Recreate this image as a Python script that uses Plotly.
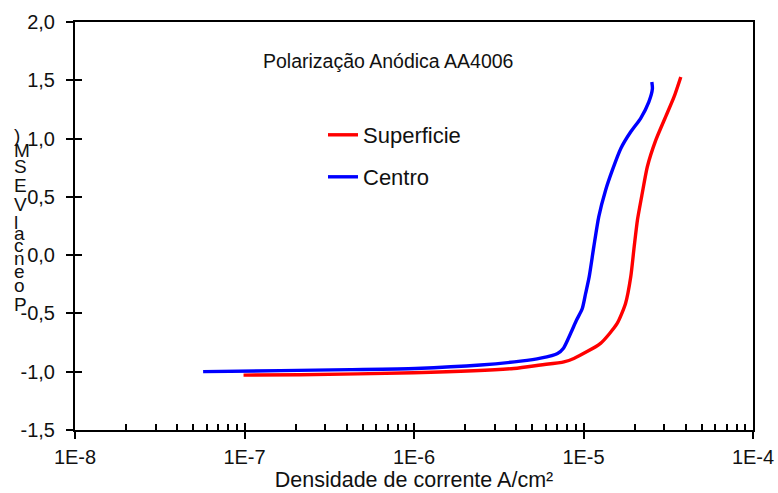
import plotly.graph_objects as go

# Data
centro_x = [5.70e-8, 1.63e-7, 4.21e-7, 1.02e-6, 2.47e-6, 4.25e-6, 5.58e-6, 7.03e-6, 7.62e-6,
            8.39e-6, 9.10e-6, 9.84e-6, 1.03e-5, 1.08e-5, 1.15e-5, 1.23e-5, 1.35e-5, 1.48e-5,
            1.66e-5, 1.90e-5, 2.17e-5, 2.43e-5, 2.55e-5, 2.53e-5]
centro_y = [-0.999, -0.991, -0.982, -0.972, -0.943, -0.909, -0.883, -0.843, -0.798,
            -0.672, -0.557, -0.458, -0.326, -0.186, 0.071, 0.329, 0.557, 0.729,
            0.915, 1.058, 1.172, 1.315, 1.428, 1.485]

superficie_x = [9.87e-8, 2.13e-7, 9.95e-7, 3.88e-6, 5.58e-6, 7.66e-6, 8.77e-6, 1.26e-5,
                1.58e-5, 1.77e-5, 1.90e-5, 1.99e-5, 2.08e-5, 2.22e-5, 2.38e-5, 2.67e-5,
                3.05e-5, 3.42e-5, 3.75e-5]
superficie_y = [-1.029, -1.026, -1.009, -0.972, -0.942, -0.915, -0.886, -0.757,
                -0.586, -0.415, -0.186, 0.071, 0.300, 0.529, 0.758, 0.986,
                1.186, 1.357, 1.529]

x_tickvals = [1e-8, 1e-7, 1e-6, 1e-5, 1e-4]
x_ticktext = ["1E-8", "1E-7", "1E-6", "1E-5", "1E-4"]
y_tickvals = [-1.5, -1.0, -0.5, 0.0, 0.5, 1.0, 1.5, 2.0]
y_ticktext = ["-1,5", "-1,0", "-0,5", "0,0", "0,5", "1,0", "1,5", "2,0"]
minor_vals = [m * 10.0 ** e for e in range(-8, -4) for m in range(2, 10)]

# stacked (reversed) y-axis title letters as they appear in the reference
ytitle_chars = [")", "M", "S", "E", "V", "l", "a", "c", "n", "e", "o", "P"]
ytitle_px = [135, 150, 166, 185, 204, 222, 234, 245, 258, 271, 285, 304]

FONT = "Liberation Sans, Arial, sans-serif"
TXT = "#111111"

L, R, T, B = 75, 25, 22, 63
W, H = 778, 493
PW, PH = W - L - R, H - T - B


def px_x(px):
    return (px - L) / PW


def px_y(py):
    return (H - B - py) / PH


fig = go.Figure()
fig.add_trace(go.Scatter(x=superficie_x, y=superficie_y, mode="lines", name="Superficie",
                         legend="legend",
                         line=dict(color="#ff0000", width=3.4, shape="spline", smoothing=0.6)))
fig.add_trace(go.Scatter(x=centro_x, y=centro_y, mode="lines", name="Centro",
                         legend="legend2",
                         line=dict(color="#0000ff", width=3.4, shape="spline", smoothing=0.6)))

axis_common = dict(showgrid=False, zeroline=False, linecolor="black", linewidth=2,
                   tickcolor="black", tickwidth=2, automargin=False)
legend_common = dict(xanchor="left", yanchor="middle", bgcolor="rgba(0,0,0,0)",
                     font=dict(size=22, family=FONT, color=TXT), itemwidth=30,
                     borderwidth=0)

fig.update_layout(
    width=W, height=H,
    margin=dict(l=L, r=R, t=T, b=B),
    paper_bgcolor="white", plot_bgcolor="white",
    font=dict(family=FONT, color=TXT, size=20),
    showlegend=True,
    legend=dict(x=px_x(323), y=px_y(135), **legend_common),
    legend2=dict(x=px_x(323), y=px_y(177), **legend_common),
    xaxis=dict(type="log", range=[-8, -4], tickvals=x_tickvals, ticktext=x_ticktext,
               ticks="outside", ticklen=7, showline=True, mirror=True,
               ticklabelstandoff=1,
               minor=dict(ticks="inside", ticklen=6, tickvals=minor_vals, tickcolor="black",
                          tickwidth=2, showgrid=False),
               title=dict(text="Densidade de corrente A/cm²", font=dict(size=21.5),
                          standoff=4),
               tickfont=dict(size=20), **axis_common),
    yaxis=dict(range=[-1.5, 2.0], tickvals=y_tickvals, ticktext=y_ticktext,
               ticks="outside", ticklen=7, showline=True, mirror=True,
               ticklabelstandoff=7,
               tickfont=dict(size=20), **axis_common),
    xaxis2=dict(type="log", range=[-8, -4], overlaying="x", tickvals=x_tickvals,
                showticklabels=False, ticks="inside", ticklen=7, showgrid=False,
                zeroline=False, showline=False, tickcolor="black", tickwidth=2, side="bottom"),
    yaxis2=dict(range=[-1.5, 2.0], overlaying="y", tickvals=y_tickvals,
                showticklabels=False, ticks="inside", ticklen=7, showgrid=False,
                zeroline=False, showline=False, tickcolor="black", tickwidth=2, side="left"),
)

# invisible trace to activate the overlay axes
fig.add_trace(go.Scatter(x=[1e-8], y=[-1.5], xaxis="x2", yaxis="y2", mode="markers",
                         marker=dict(opacity=0), showlegend=False, hoverinfo="skip"))

fig.add_annotation(text="Polarização Anódica AA4006", xref="paper", yref="paper",
                   x=px_x(388), y=px_y(48), showarrow=False,
                   font=dict(size=19.5, family=FONT, color=TXT))

for ch, py in zip(ytitle_chars, ytitle_px):
    fig.add_annotation(text=ch, xref="paper", yref="paper", x=px_x(12),
                       y=px_y(py), showarrow=False, xanchor="left", yanchor="middle",
                       font=dict(size=19, family=FONT, color=TXT))

fig.write_html("out.html")
